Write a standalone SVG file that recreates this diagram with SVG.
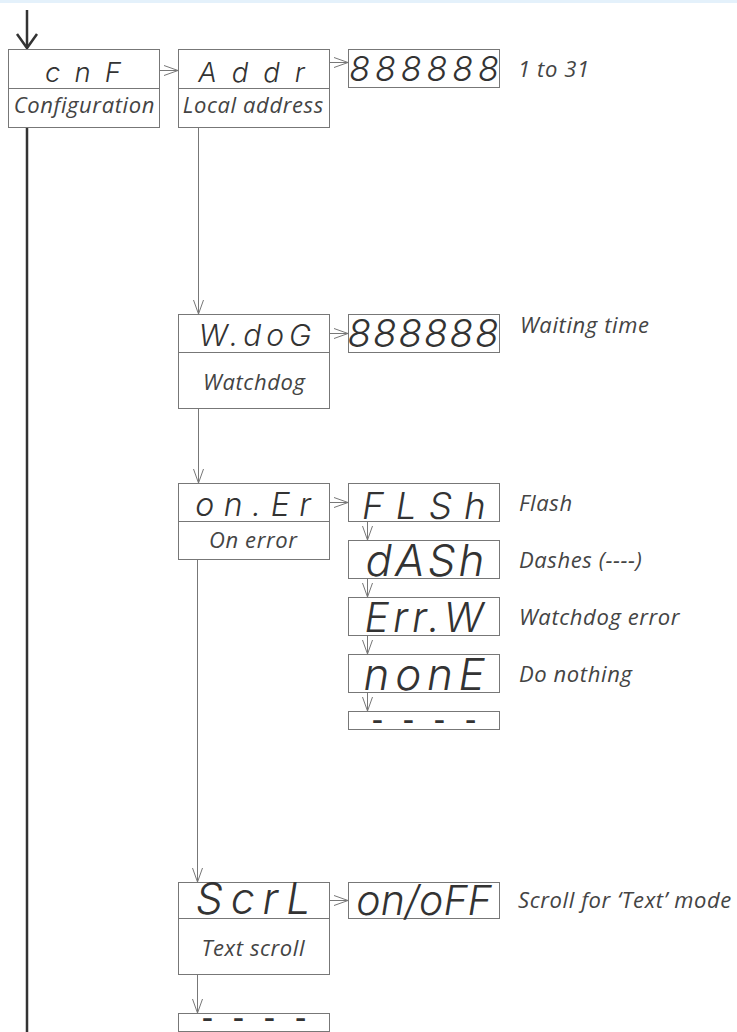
<svg xmlns="http://www.w3.org/2000/svg" width="737" height="1032" viewBox="0 0 737 1032">
<style>
.box{fill:#fff;stroke:#777;stroke-width:1}
.div{stroke:#777;stroke-width:1}
.seg{font-family:Inter,"Liberation Sans",sans-serif;font-weight:300;font-style:italic;fill:#333;text-anchor:middle}
.dsh{font-family:"Liberation Mono",monospace;font-weight:bold;font-size:22px;fill:#333}
.lbl{font-family:"Open Sans","Liberation Sans",sans-serif;font-style:italic;font-size:22px;letter-spacing:0.6px;fill:#444;text-anchor:middle}
.note{font-family:"Open Sans","Liberation Sans",sans-serif;font-style:italic;font-size:22px;letter-spacing:0.6px;fill:#444}
.conn{stroke:#777;stroke-width:1;fill:none;marker-end:url(#arr)}
.main{stroke:#333;stroke-width:2.5;fill:none}
</style>
<defs>
<marker id="arr" viewBox="-15 -6 16 12" refX="0" refY="0" markerWidth="16" markerHeight="12" markerUnits="userSpaceOnUse" orient="auto">
<path d="M-14,-5 L0,0 L-14,5" fill="none" stroke="#777" stroke-width="1"/>
</marker>
</defs>
<rect x="0" y="0" width="737" height="3" fill="#e4f1fb"/>
<g id="connectors">
<path class="main" d="M27,10 V48"/>
<path class="main" stroke-width="2" d="M17,34 L27,48 L37,34"/>
<path class="main" d="M27,127 V1032"/>
<path class="conn" d="M160,70.5 H178"/>
<path class="conn" d="M330,62.5 H348"/>
<path class="conn" d="M198.5,127.5 V314"/>
<path class="conn" d="M330,333.5 H348"/>
<path class="conn" d="M198.5,408.5 V483"/>
<path class="conn" d="M330,502.5 H348"/>
<path class="conn" d="M367.5,522 V540"/>
<path class="conn" d="M367.5,579 V597"/>
<path class="conn" d="M367.5,636 V654"/>
<path class="conn" d="M367.5,693 V711"/>
<path class="conn" d="M197.5,559.5 V882"/>
<path class="conn" d="M330,900.5 H348"/>
<path class="conn" d="M197.5,974.5 V1013"/>
</g>
<g id="cnf">
<rect class="box" x="8.5" y="49.5" width="151" height="78"/>
<line class="div" x1="8.5" y1="88.5" x2="159.5" y2="88.5"/>
<text class="seg" x="90" y="82" font-size="27.5" letter-spacing="14">cnF</text>
<text class="lbl" x="84.3" y="113">Configuration</text>
</g>
<g id="addr">
<rect class="box" x="178.5" y="49.5" width="151" height="78"/>
<line class="div" x1="178.5" y1="88.5" x2="329.5" y2="88.5"/>
<text class="seg" x="259" y="82" font-size="27.5" letter-spacing="15">Addr</text>
<text class="lbl" x="253.3" y="113">Local address</text>
</g>
<g id="addr-value">
<rect class="box" x="348.5" y="49.5" width="151" height="38"/>
<text class="seg" x="426.5" y="81" font-size="34" letter-spacing="5">888888</text>
<text class="note" x="518" y="77">1 to 31</text>
</g>
<g id="wdog">
<rect class="box" x="178.5" y="314.5" width="151" height="94"/>
<line class="div" x1="178.5" y1="352.5" x2="329.5" y2="352.5"/>
<text class="seg" x="257.5" y="346" font-size="30" letter-spacing="5">W.doG</text>
<text class="lbl" x="254.3" y="390">Watchdog</text>
</g>
<g id="wdog-value">
<rect class="box" x="348.5" y="314.5" width="151" height="38"/>
<text class="seg" x="424" y="347" font-size="38.5" letter-spacing="2">888888</text>
<text class="note" x="520" y="333">Waiting time</text>
</g>
<g id="onerr">
<rect class="box" x="178.5" y="483.5" width="151" height="76"/>
<line class="div" x1="178.5" y1="521.5" x2="329.5" y2="521.5"/>
<text class="seg" x="257.75" y="516" font-size="32" letter-spacing="9.5">on.Er</text>
<text class="lbl" x="253.3" y="548">On error</text>
</g>
<g id="flsh">
<rect class="box" x="348.5" y="483.5" width="151" height="38"/>
<text class="seg" x="430" y="519" font-size="37" letter-spacing="12">FLSh</text>
<text class="note" x="519" y="511">Flash</text>
</g>
<g id="dash">
<rect class="box" x="348.5" y="540.5" width="151" height="38"/>
<text class="seg" x="426.5" y="576" font-size="44" letter-spacing="3">dASh</text>
<text class="note" x="519" y="568">Dashes (----)</text>
</g>
<g id="errw">
<rect class="box" x="348.5" y="597.5" width="151" height="38"/>
<text class="seg" x="426" y="632" font-size="41" letter-spacing="4">Err.W</text>
<text class="note" x="519" y="625">Watchdog error</text>
</g>
<g id="none">
<rect class="box" x="348.5" y="654.5" width="151" height="38"/>
<text class="seg" x="427" y="690" font-size="44" letter-spacing="5.7">nonE</text>
<text class="note" x="519" y="682">Do nothing</text>
</g>
<g id="onerr-end">
<rect class="box" x="348.5" y="711.5" width="151" height="18"/>
<text class="dsh" transform="translate(424,726.5) scale(1.35,1)" x="4.9" text-anchor="middle" letter-spacing="9.8">----</text>
</g>
<g id="scrl">
<rect class="box" x="178.5" y="882.5" width="151" height="92"/>
<line class="div" x1="178.5" y1="918.5" x2="329.5" y2="918.5"/>
<text class="seg" x="257" y="914" font-size="43" letter-spacing="7.8">ScrL</text>
<text class="lbl" x="253.3" y="956">Text scroll</text>
</g>
<g id="onoff">
<rect class="box" x="348.5" y="882.5" width="151" height="36"/>
<text class="seg" x="424" y="915" font-size="41" letter-spacing="0">on/oFF</text>
<text class="note" x="518" y="908">Scroll for ‘Text’ mode</text>
</g>
<g id="end">
<rect class="box" x="178.5" y="1013.5" width="151" height="18"/>
<text class="dsh" transform="translate(254,1025) scale(1.35,1)" x="4.9" text-anchor="middle" letter-spacing="9.8">----</text>
</g>
</svg>
